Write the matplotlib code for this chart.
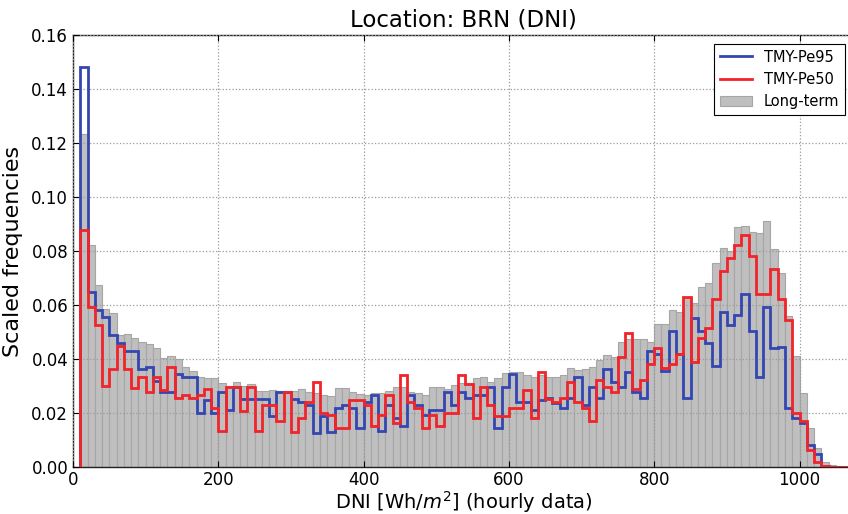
import numpy as np
import matplotlib
matplotlib.use("Agg")
import matplotlib.pyplot as plt
from matplotlib.lines import Line2D
from matplotlib.patches import Patch

# Histogram bins: 10 Wh/m2 wide, first bin starting at 10 Wh/m2
bin_width = 10
first_edge = 10

# Long-term scaled frequencies per bin
long_term = [
    0.1235, 0.0823, 0.0675, 0.0585, 0.0570, 0.0488, 0.0493, 0.0480, 0.0463, 0.0457,
    0.0443, 0.0404, 0.0413, 0.0400, 0.0373, 0.0358, 0.0333, 0.0330, 0.0332, 0.0311,
    0.0301, 0.0317, 0.0301, 0.0309, 0.0281, 0.0283, 0.0286, 0.0283, 0.0274, 0.0283,
    0.0290, 0.0278, 0.0274, 0.0268, 0.0264, 0.0295, 0.0293, 0.0280, 0.0272, 0.0268,
    0.0274, 0.0274, 0.0283, 0.0296, 0.0296, 0.0280, 0.0274, 0.0268, 0.0296, 0.0299,
    0.0290, 0.0305, 0.0311, 0.0311, 0.0332, 0.0336, 0.0317, 0.0332, 0.0348, 0.0354,
    0.0354, 0.0342, 0.0333, 0.0342, 0.0333, 0.0336, 0.0342, 0.0369, 0.0360, 0.0362,
    0.0373, 0.0398, 0.0416, 0.0410, 0.0465, 0.0474, 0.0474, 0.0474, 0.0465, 0.0530,
    0.0530, 0.0583, 0.0574, 0.0632, 0.0607, 0.0667, 0.0681, 0.0755, 0.0811, 0.0799,
    0.0891, 0.0894, 0.0870, 0.0866, 0.0910, 0.0809, 0.0720, 0.0561, 0.0413, 0.0274,
    0.0144, 0.0070, 0.0018, 0.0008, 0.0003, 0.0, 0.0,
]

# TMY-Pe95 scaled frequencies per bin
tmy_pe95 = [
    0.1480, 0.0650, 0.0583, 0.0556, 0.0488, 0.0460, 0.0431, 0.0431, 0.0364, 0.0373,
    0.0321, 0.0278, 0.0278, 0.0344, 0.0336, 0.0336, 0.0200, 0.0249, 0.0200, 0.0278,
    0.0212, 0.0296, 0.0252, 0.0252, 0.0252, 0.0252, 0.0190, 0.0278, 0.0278, 0.0252,
    0.0240, 0.0230, 0.0128, 0.0190, 0.0131, 0.0220, 0.0230, 0.0219, 0.0144, 0.0241,
    0.0268, 0.0135, 0.0230, 0.0184, 0.0154, 0.0268, 0.0230, 0.0194, 0.0212, 0.0212,
    0.0278, 0.0230, 0.0278, 0.0258, 0.0268, 0.0268, 0.0296, 0.0144, 0.0296, 0.0344,
    0.0243, 0.0243, 0.0212, 0.0249, 0.0258, 0.0237, 0.0221, 0.0256, 0.0333, 0.0230,
    0.0296, 0.0258, 0.0363, 0.0317, 0.0296, 0.0354, 0.0278, 0.0258, 0.0430, 0.0418,
    0.0356, 0.0506, 0.0418, 0.0258, 0.0554, 0.0506, 0.0459, 0.0376, 0.0574, 0.0527,
    0.0564, 0.0640, 0.0506, 0.0333, 0.0592, 0.0440, 0.0447, 0.0218, 0.0181, 0.0165,
    0.0082, 0.0049, 0.0006, 0.0, 0.0, 0.0, 0.0,
]

# TMY-Pe50 scaled frequencies per bin
tmy_pe50 = [
    0.0879, 0.0595, 0.0525, 0.0302, 0.0364, 0.0449, 0.0364, 0.0295, 0.0336, 0.0277,
    0.0336, 0.0286, 0.0373, 0.0256, 0.0268, 0.0256, 0.0268, 0.0289, 0.0221, 0.0135,
    0.0296, 0.0296, 0.0210, 0.0296, 0.0135, 0.0230, 0.0230, 0.0173, 0.0278, 0.0132,
    0.0181, 0.0240, 0.0314, 0.0200, 0.0194, 0.0144, 0.0144, 0.0249, 0.0249, 0.0230,
    0.0154, 0.0194, 0.0268, 0.0163, 0.0342, 0.0243, 0.0221, 0.0144, 0.0194, 0.0154,
    0.0200, 0.0200, 0.0342, 0.0307, 0.0181, 0.0296, 0.0230, 0.0190, 0.0190, 0.0221,
    0.0221, 0.0286, 0.0181, 0.0354, 0.0252, 0.0240, 0.0258, 0.0315, 0.0240, 0.0221,
    0.0173, 0.0323, 0.0296, 0.0278, 0.0410, 0.0496, 0.0290, 0.0323, 0.0383, 0.0440,
    0.0366, 0.0383, 0.0420, 0.0630, 0.0391, 0.0478, 0.0517, 0.0622, 0.0725, 0.0774,
    0.0823, 0.0858, 0.0782, 0.0640, 0.0640, 0.0734, 0.0622, 0.0546, 0.0202, 0.0171,
    0.0064, 0.0021, 0.0006, 0.0, 0.0, 0.0, 0.0,
]

x_ticks = [0, 200, 400, 600, 800, 1000]
y_ticks = [0.00, 0.02, 0.04, 0.06, 0.08, 0.10, 0.12, 0.14, 0.16]

n_bins = len(long_term)
edges = first_edge + bin_width * np.arange(n_bins + 1)

fig = plt.figure(figsize=(8.48, 5.14), dpi=100)
ax = fig.add_axes([73 / 848, 46.7 / 514, 781 / 848, 432.3 / 514])

gray_face = "#bfbfbf"
gray_edge = "#a6a6a6"
blue = "#3446b0"
red = "#f0242a"

ax.bar(edges[:-1], long_term, width=bin_width, align="edge",
       facecolor=gray_face, edgecolor=gray_edge, linewidth=0.8, zorder=1)
ax.stairs(tmy_pe95, edges, baseline=0, color=blue, linewidth=2.0, zorder=3)
ax.stairs(tmy_pe50, edges, baseline=0, color=red, linewidth=2.0, zorder=4)

ax.set_xlim(0, 1075)
ax.set_ylim(0, 0.16)
ax.set_xticks(x_ticks)
ax.set_yticks(y_ticks)
ax.set_yticklabels([f"{v:.2f}" for v in y_ticks])
ax.tick_params(direction="in", top=True, right=True, length=4, labelsize=12)
ax.tick_params(axis="x", pad=3)

ax.grid(True, linestyle=":", color="#9a9a9a", linewidth=0.9)
ax.set_axisbelow(False)
for line in ax.get_xgridlines() + ax.get_ygridlines():
    line.set_zorder(2)

for sp in ax.spines.values():
    sp.set_linewidth(1.0)
    sp.set_color("#222222")

ax.set_title("Location: BRN (DNI)", fontsize=16.5, pad=6)
ax.set_xlabel("DNI [Wh/$m^2$] (hourly data)", fontsize=14, labelpad=0)
ax.set_ylabel("Scaled frequencies", fontsize=16, labelpad=6)

handles = [
    Line2D([], [], color=blue, linewidth=2.0),
    Line2D([], [], color=red, linewidth=2.0),
    Patch(facecolor=gray_face, edgecolor=gray_edge, linewidth=0.8),
]
leg = ax.legend(handles, ["TMY-Pe95", "TMY-Pe50", "Long-term"], loc="upper right",
                fontsize=10.5, fancybox=False, framealpha=1.0, edgecolor="black",
                borderaxespad=0.6, handlelength=2.2)
leg.get_frame().set_linewidth(0.8)

fig.savefig("out.png", dpi=100)
